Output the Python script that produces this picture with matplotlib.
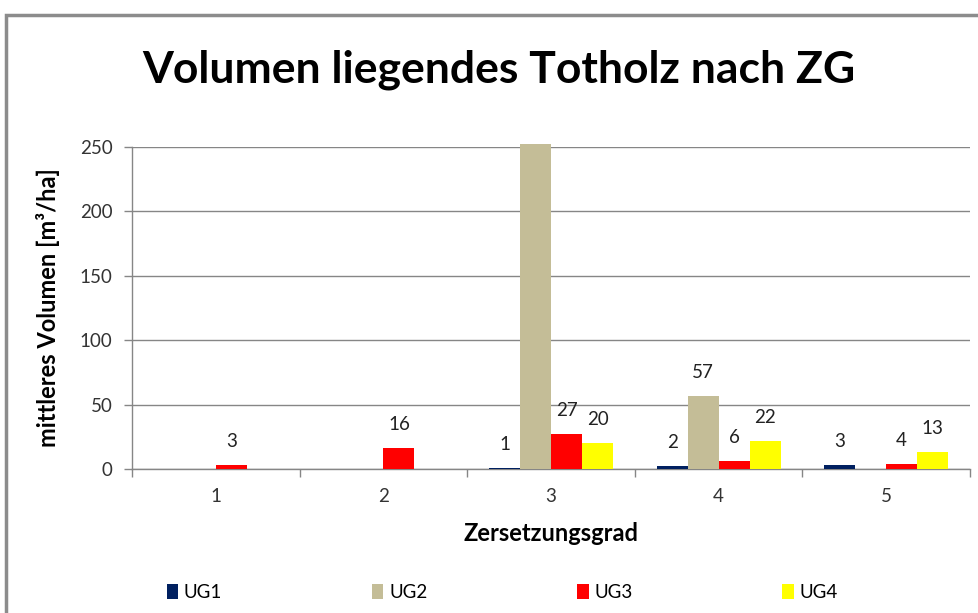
import matplotlib.pyplot as plt
import numpy as np
from matplotlib.patches import Rectangle

# Daten: mittleres Volumen liegendes Totholz je Zersetzungsgrad
zg = ["1", "2", "3", "4", "5"]
ug1 = [0, 0, 1, 2, 3]
ug2 = [0, 0, 252, 57, 0]
ug3 = [3, 16, 27, 6, 4]
ug4 = [0, 0, 20, 22, 13]
series = ["UG1", "UG2", "UG3", "UG4"]
colors = ["#002060", "#C4BD97", "#FF0000", "#FFFF00"]

plt.rcParams['font.family'] = ['Lato', 'DejaVu Sans']

fig = plt.figure(figsize=(9.79, 6.13), dpi=100)
ax = fig.add_axes([0.1348, 0.2349, 0.8560, 0.5253])

x = np.arange(len(zg))
w = 0.185
for i, (vals, name, col) in enumerate(zip([ug1, ug2, ug3, ug4], series, colors)):
    pos = x + (i - 1.5) * w
    bars = ax.bar(pos, vals, w, color=col, label=name, zorder=3, clip_on=False)
    for b, v in zip(bars, vals):
        if v == 0:
            continue
        ax.annotate(str(v), (b.get_x() + b.get_width() / 2, v),
                    xytext=(0, 13), textcoords="offset points",
                    ha="center", va="baseline", fontsize=13.5, color="#222222")

ax.set_xlim(-0.5, len(zg) - 0.5)
ax.set_ylim(0, 250)
ax.set_yticks(range(0, 251, 50))
ax.set_xticks(x)
ax.set_xticklabels(zg)
ax.set_xticks(np.arange(-0.5, len(zg), 1), minor=True)
ax.tick_params(axis="x", which="major", length=0, pad=14, labelsize=13.5, labelcolor="#333333")
ax.tick_params(axis="x", which="minor", length=6, color="#868686", width=1)
ax.tick_params(axis="y", length=6, color="#868686", width=1, labelsize=13.5, labelcolor="#333333", pad=8)

ax.grid(axis="y", color="#868686", linewidth=1, zorder=0)
for s in ["top", "right"]:
    ax.spines[s].set_visible(False)
for s in ["left", "bottom"]:
    ax.spines[s].set_color("#868686")
    ax.spines[s].set_linewidth(1)

ax.set_xlabel("Zersetzungsgrad", fontsize=17, fontweight="bold", labelpad=12)
ax.set_ylabel("mittleres Volumen [m³/ha]", fontsize=17, fontweight="bold", labelpad=14)
fig.text(0.51, 0.886, "Volumen liegendes Totholz nach ZG", ha="center", va="center",
         fontsize=32, fontweight="bold")

ax.legend(loc="center", bbox_to_anchor=(0.513, 0.034), bbox_transform=fig.transFigure,
          ncol=4, frameon=False, fontsize=13.5, handlelength=0.6, handleheight=0.9,
          handletextpad=0.3, columnspacing=8.0)

# Rahmen des Diagrammbereichs
fig.patches.append(Rectangle((6 / 979, -0.05), 1.1, 1 - 15 / 613 + 0.05,
                             transform=fig.transFigure, fill=False,
                             edgecolor="#8c8c8c", linewidth=2.5))

fig.savefig("out.png", dpi=100)
plt.close()
